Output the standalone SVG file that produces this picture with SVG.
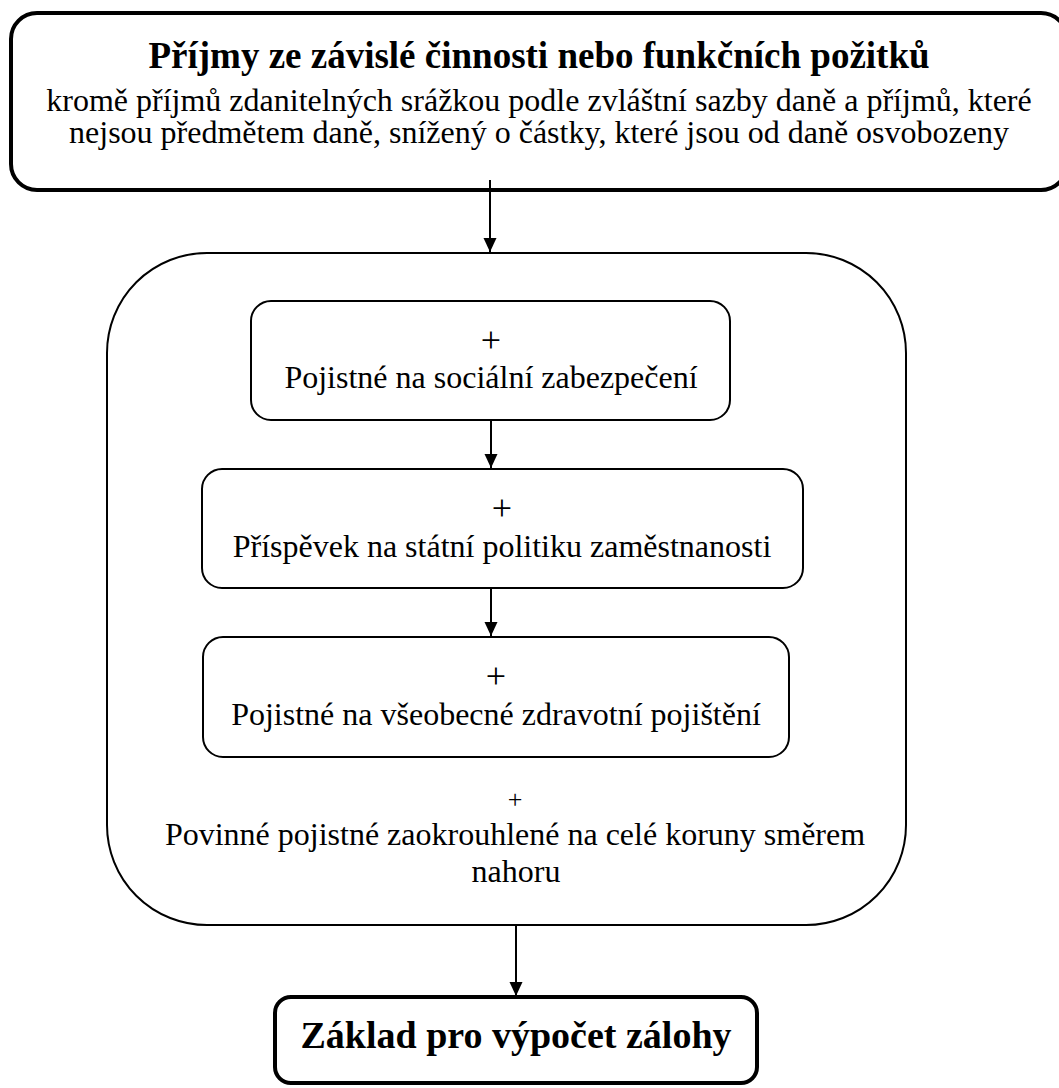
<svg xmlns="http://www.w3.org/2000/svg" width="1059" height="1088" viewBox="0 0 1059 1088">
<style>
text{font-family:"Liberation Serif","Times New Roman",serif;fill:#000;text-anchor:middle}
.b{font-weight:bold;font-size:37px}
.bb{font-weight:bold;font-size:38px}
.r{font-size:32px}
.p{font-size:36px}
.s{font-size:26px}
.thick{fill:#fff;stroke:#000;stroke-width:4}
.thin{fill:#fff;stroke:#000;stroke-width:2}
.conn{stroke:#000;stroke-width:2;fill:none}
</style>
<defs>
<marker id="ah" markerWidth="14" markerHeight="14" viewBox="0 0 14 14" refX="14" refY="7" orient="auto" markerUnits="userSpaceOnUse">
<path d="M0,0.5 L14,7 L0,13.5 Z" fill="#000"/>
</marker>
</defs>
<g id="container">
<rect class="thin" x="107" y="253" width="799" height="672" rx="100" ry="100"/>
<text class="s" x="515" y="808">+</text>
<text class="r" x="515" y="845">Povinné pojistné zaokrouhlené na celé koruny směrem</text>
<text class="r" x="516" y="882">nahoru</text>
</g>
<g id="top">
<rect class="thick" x="11" y="13" width="1056" height="177" rx="26" ry="26"/>
<text class="b" x="539" y="68">Příjmy ze závislé činnosti nebo funkčních požitků</text>
<text class="r" x="539" y="111">kromě příjmů zdanitelných srážkou podle zvláštní sazby daně a příjmů, které</text>
<text class="r" x="539" y="143">nejsou předmětem daně, snížený o částky, které jsou od daně osvobozeny</text>
</g>
<g id="boxA">
<rect class="thin" x="251" y="301" width="479" height="119" rx="20" ry="20"/>
<text class="p" x="491" y="352">+</text>
<text class="r" x="491" y="388">Pojistné na sociální zabezpečení</text>
</g>
<g id="boxB">
<rect class="thin" x="202" y="469" width="601" height="119" rx="20" ry="20"/>
<text class="p" x="502" y="520">+</text>
<text class="r" x="502" y="557">Příspěvek na státní politiku zaměstnanosti</text>
</g>
<g id="boxC">
<rect class="thin" x="203" y="637" width="586" height="120" rx="20" ry="20"/>
<text class="p" x="496" y="688">+</text>
<text class="r" x="496" y="725">Pojistné na všeobecné zdravotní pojištění</text>
</g>
<g id="bottom">
<rect class="thick" x="275" y="997" width="482" height="86" rx="16" ry="16"/>
<text class="bb" x="516" y="1048">Základ pro výpočet zálohy</text>
</g>
<g id="connectors">
<line class="conn" x1="490" y1="180" x2="490" y2="252" marker-end="url(#ah)"/>
<line class="conn" x1="491" y1="421" x2="491" y2="468" marker-end="url(#ah)"/>
<line class="conn" x1="491" y1="589" x2="491" y2="636" marker-end="url(#ah)"/>
<line class="conn" x1="516" y1="926" x2="516" y2="996" marker-end="url(#ah)"/>
</g>
</svg>
